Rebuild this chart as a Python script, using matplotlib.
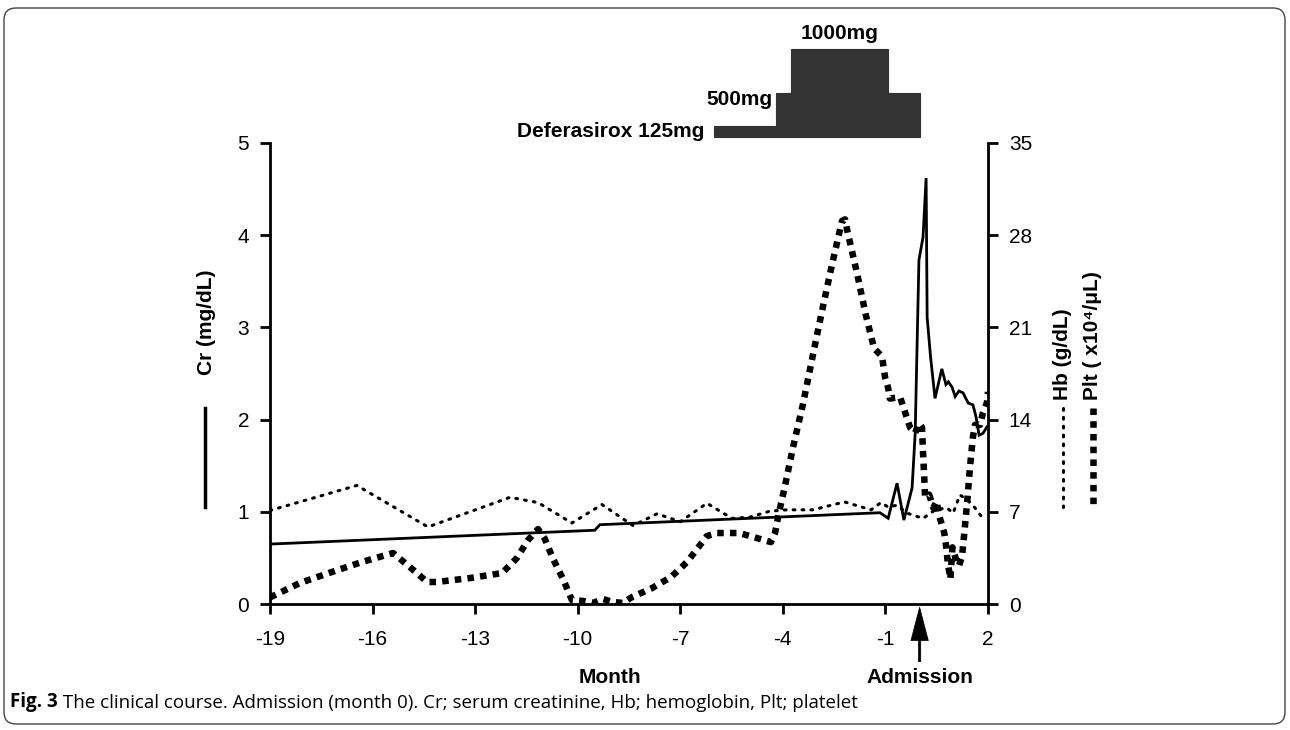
import matplotlib
matplotlib.use("Agg")
import matplotlib.pyplot as plt
from matplotlib.patches import Rectangle, FancyBboxPatch
from matplotlib.transforms import blended_transform_factory, IdentityTransform
from matplotlib.lines import Line2D

plt.rcParams['font.family'] = ['Liberation Sans', 'DejaVu Sans']

# ---------------- data ----------------
month_cr = [-19, -9.5, -9.35, -1.16, -0.92, -0.66, -0.46, -0.22, -0.13, -0.02, 0.1, 0.19,
            0.22, 0.32, 0.45, 0.65, 0.77, 0.84, 0.95, 1.04, 1.15, 1.27, 1.42, 1.56, 1.65,
            1.74, 1.85, 1.97]
cr = [0.65, 0.80, 0.86, 0.99, 0.93, 1.31, 0.91, 1.26, 1.85, 3.73, 3.98, 4.62,
      3.11, 2.68, 2.23, 2.55, 2.38, 2.41, 2.35, 2.25, 2.31, 2.29, 2.18, 2.16, 2.03,
      1.83, 1.85, 1.92]

month_hb = [-19, -16.46, -14.38, -11.98, -11.16, -10.17, -9.29, -8.38, -7.68, -7.0, -6.22,
            -5.49, -4.96, -4.38, -3.88, -3.12, -2.2, -1.42, -1.13, -0.92, -0.66, -0.37,
            0.1, 0.45, 0.8, 0.98, 1.18, 1.39, 1.62, 1.85]
hb = [7.1, 9.0, 5.85, 8.1, 7.7, 6.15, 7.55, 5.95, 6.85, 6.25, 7.65,
      6.5, 6.6, 7.05, 7.15, 7.15, 7.75, 7.15, 7.7, 7.36, 7.5, 6.9,
      6.5, 7.14, 7.3, 6.9, 8.28, 7.9, 7.3, 6.5]

month_plt = [-19, -18.12, -17.19, -16.31, -15.4, -14.67, -14.41, -14.12, -13.15, -12.21,
             -11.78, -11.45, -11.16, -10.96, -10.72, -10.43, -10.17, -9.85, -9.55, -9.26,
             -8.97, -8.68, -8.41, -7.83, -7.27, -6.8, -6.42, -6.22, -5.93, -5.28, -4.96,
             -4.67, -4.35, -4.23, -4.11, -3.97, -3.7, -3.41, -3.09, -2.83, -2.56, -2.27,
             -2.18, -2.12, -1.83, -1.57, -1.33, -1.1, -1.01, -0.92, -0.87, -0.57, -0.28,
             -0.13, -0.02, 0.07, 0.1, 0.13, 0.16, 0.28, 0.4, 0.5, 0.56, 0.63, 0.72, 0.77,
             0.83, 0.9, 0.96, 1.05, 1.15, 1.24, 1.3, 1.39, 1.47, 1.56, 1.62, 1.77, 1.85,
             1.97, 2.0]
plt_vals = [0.5, 1.6, 2.43, 3.19, 3.87, 2.28, 1.67, 1.67, 1.97, 2.35,
            3.49, 4.86, 5.69, 4.94, 3.42, 1.9, 0.3, 0.23, 0.08, 0.38,
            0.15, 0.08, 0.53, 1.2, 2.05, 3.19, 4.48, 5.16, 5.39, 5.39, 5.16,
            4.94, 4.7, 5.39, 6.99, 8.58, 11.92, 15.2, 19.3, 22.55, 25.8, 29.08,
            29.2, 28.4, 25.1, 21.9, 19.4, 18.8, 17.2, 16.4, 15.6, 15.7, 13.4,
            13.0, 13.7, 13.4, 11.5, 9.9, 8.1, 8.3, 7.3, 7.8, 6.8, 6.2, 5.4, 4.5,
            3.0, 1.9, 4.3, 3.5, 2.9, 3.6, 5.2, 7.7, 10.3, 12.7, 13.6, 13.6, 14.5,
            15.3, 16.1]

dose_start = [-6.0, -4.2, -3.76, -0.92]
dose_end = [-4.2, -3.76, -0.92, 0.0]
dose_mg = [125, 500, 1000, 500]

x_ticks = [-19, -16, -13, -10, -7, -4, -1, 2]
left_ticks = [0, 1, 2, 3, 4, 5]
right_ticks = [0, 7, 14, 21, 28, 35]

HB_STYLE = dict(color='black', lw=2.2, linestyle=(0, (0.6, 2.3)), dash_capstyle='round')
PLT_STYLE = dict(color='black', lw=4.7, linestyle=(0, (1, 0.95)), dash_capstyle='butt')

# ---------------- figure ----------------
fig = plt.figure(figsize=(12.9, 7.3), dpi=100)
ax = fig.add_axes([270 / 1290, 126 / 730, 718 / 1290, 461 / 730])
ax2 = ax.twinx()

ax.plot(month_cr, cr, color='black', lw=2.0, solid_joinstyle='miter', zorder=3)
ax2.plot(month_hb, hb, zorder=2, **HB_STYLE)
ax2.plot(month_plt, plt_vals, zorder=2, **PLT_STYLE)

ax.set_xlim(-19, 2)
ax.set_ylim(0, 5)
ax2.set_ylim(0, 35)
ax.set_xticks(x_ticks)
ax.set_yticks(left_ticks)
ax2.set_yticks(right_ticks)
ax.set_xticklabels([str(t) for t in x_ticks])

for a in (ax, ax2):
    a.spines['top'].set_visible(False)
    for s in ('left', 'right', 'bottom'):
        a.spines[s].set_linewidth(2.0)
    a.tick_params(direction='out', length=7, width=2.0, labelsize=15, pad=8)
ax.spines['right'].set_visible(False)
ax2.spines['left'].set_visible(False)
ax2.spines['bottom'].set_visible(False)
ax.tick_params(axis='x', pad=12)

# dose bars (above the axes)
bt = blended_transform_factory(ax.transData, ax.transAxes)
base = 1.013
hscale = 0.191 / 1000
for s, e, mg in zip(dose_start, dose_end, dose_mg):
    ax.add_patch(Rectangle((s, base), e - s, mg * hscale, transform=bt,
                           facecolor='#333333', edgecolor='#333333', lw=0.8,
                           clip_on=False))
ax.text(-6.3, base + dose_mg[0] * hscale / 2, 'Deferasirox 125mg', transform=bt,
        ha='right', va='center', fontsize=15, fontweight='bold')
ax.text(-4.3, base + dose_mg[1] * hscale * 0.85, '500mg', transform=bt,
        ha='right', va='center', fontsize=15, fontweight='bold')
ax.text((dose_start[2] + dose_end[2]) / 2, base + dose_mg[2] * hscale + 0.012, '1000mg',
        transform=bt, ha='center', va='bottom', fontsize=15, fontweight='bold')

# admission arrow & labels
ax.annotate('', xy=(0, -0.007), xytext=(0, -0.125), xycoords=bt, textcoords=bt,
            arrowprops=dict(width=1.6, headwidth=12.5, headlength=24,
                            facecolor='black', edgecolor='black', lw=0.5,
                            shrink=0), annotation_clip=False)
ax.text(0, -0.160, 'Admission', transform=bt, ha='center', va='center',
        fontsize=15, fontweight='bold')
ax.text(-9.06, -0.160, 'Month', transform=bt, ha='center', va='center',
        fontsize=15, fontweight='bold')

# side legends
H = 730
fig.text(207 / 1290, 1 - 322 / H, 'Cr (mg/dL)', rotation=90, ha='center', va='center',
         fontsize=15, fontweight='bold')
fig.add_artist(Line2D([205 / 1290, 205 / 1290], [1 - 408 / H, 1 - 507 / H],
                      color='black', lw=2.5, transform=fig.transFigure))
fig.text(1063 / 1290, 1 - 400 / H, 'Hb (g/dL)', rotation=90, ha='center', va='bottom',
         fontsize=15, fontweight='bold')
fig.text(1093 / 1290, 1 - 400 / H, 'Plt ( x10\u2074/\u03bcL)', rotation=90, ha='center',
         va='bottom', fontsize=15, fontweight='bold')
fig.add_artist(Line2D([1063 / 1290, 1063 / 1290], [1 - 408 / H, 1 - 507 / H],
                      transform=fig.transFigure, **HB_STYLE))
fig.add_artist(Line2D([1093 / 1290, 1093 / 1290], [1 - 408 / H, 1 - 507 / H],
                      transform=fig.transFigure, **PLT_STYLE))

# border
fig.add_artist(FancyBboxPatch((4, 730 - 724), 1281, 716,
                              boxstyle='round,pad=0,rounding_size=12',
                              transform=IdentityTransform(), fill=False,
                              edgecolor='#444444', lw=1.0))

# caption
cap_font = ['Open Sans', 'DejaVu Sans']
t1 = fig.text(10 / 1290, 1 - 702 / H, 'Fig. 3', ha='left', va='center',
              fontsize=13.5, fontweight='bold', family=cap_font)
ax.annotate(' The clinical course. Admission (month 0). Cr; serum creatinine, Hb; hemoglobin, Plt; platelet',
            xy=(1, 0), xycoords=t1, va='bottom', ha='left', fontsize=13.5,
            family=cap_font, annotation_clip=False)

fig.savefig('out.png', dpi=100)
